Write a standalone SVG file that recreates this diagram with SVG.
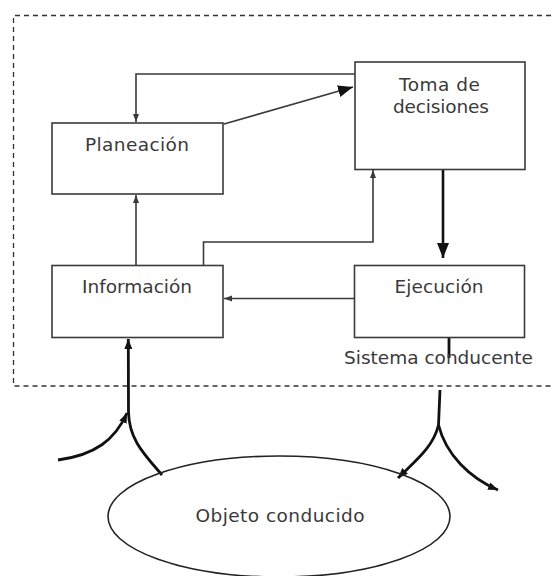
<svg xmlns="http://www.w3.org/2000/svg" width="553" height="576" viewBox="0 0 553 576">
<defs>
<style>
.box{fill:#fff;stroke:#3a3a3a;stroke-width:1.6}
.lbl{font-family:"DejaVu Sans","Liberation Sans",sans-serif;font-size:18.5px;fill:#3a3a3a;text-anchor:middle}
.thin{fill:none;stroke:#3a3a3a;stroke-width:1.6}
.thick{fill:none;stroke:#111;stroke-width:2.8}
</style>
<marker id="sm" markerUnits="userSpaceOnUse" markerWidth="10" markerHeight="10" refX="8" refY="4" orient="auto">
<path d="M0,1 L8,4 L0,7 Z" fill="#3a3a3a"/>
</marker>
<marker id="lg" markerUnits="userSpaceOnUse" markerWidth="18" markerHeight="14" refX="15" refY="6" orient="auto">
<path d="M0,0 L15,6 L0,12 Z" fill="#111"/>
</marker>
<marker id="cv" markerUnits="userSpaceOnUse" markerWidth="12" markerHeight="12" refX="10" refY="5" orient="auto">
<path d="M0,1 L10,5 L0,9 Z" fill="#111"/>
</marker>
</defs>
<rect width="553" height="576" fill="#fff"/>
<path d="M560,15.5 H13.5 V386 H560" fill="none" stroke="#333" stroke-width="1.3" stroke-dasharray="5,4"/>
<g id="connectors">
<path class="thin" d="M355,74 H136 V122" marker-end="url(#sm)"/>
<path class="thin" d="M224,124 L353,87" marker-end="url(#lg)"/>
<path class="thin" d="M136,265 V195" marker-end="url(#sm)"/>
<path class="thin" d="M203.5,265 V242 H373 V170" marker-end="url(#sm)"/>
<path class="thin" d="M354,298.5 H224" marker-end="url(#sm)"/>
<path fill="none" stroke="#111" stroke-width="2.6" d="M443,169 V258" marker-end="url(#lg)"/>
<path class="thick" d="M449,338 V358"/>
<path class="thick" d="M162,475 C145,455 129,440 128.5,412 L128.3,339" marker-end="url(#cv)"/>
<path class="thick" d="M58,460 C95,455 115,440 127,413" marker-end="url(#cv)"/>
<path class="thick" d="M440,390 L438.5,425 C433,448 414,462 398,478" marker-end="url(#cv)"/>
<path class="thick" d="M438.5,425 C446,455 470,478 498,490" marker-end="url(#cv)"/>
</g>
<g id="toma">
<rect class="box" x="355" y="62" width="170" height="107.5"/>
<text class="lbl" x="439.5" y="90.5" textLength="81">Toma de</text>
<text class="lbl" x="441" y="112.5" textLength="96">decisiones</text>
</g>
<g id="planeacion">
<rect class="box" x="52" y="123" width="171" height="71"/>
<text class="lbl" x="137" y="150.5" textLength="104">Planeación</text>
</g>
<g id="informacion">
<rect class="box" x="52" y="265.5" width="171" height="72"/>
<text class="lbl" x="137" y="293" textLength="110">Información</text>
</g>
<g id="ejecucion">
<rect class="box" x="354.5" y="265.5" width="170" height="72"/>
<text class="lbl" x="439" y="293" textLength="89">Ejecución</text>
</g>
<g id="sistema">
<text class="lbl" x="438.5" y="364" textLength="189">Sistema conducente</text>
</g>
<g id="objeto">
<ellipse cx="279" cy="516.5" rx="171" ry="60.5" fill="none" stroke="#222" stroke-width="1.6"/>
<text class="lbl" x="280" y="522" textLength="169">Objeto conducido</text>
</g>
</svg>
